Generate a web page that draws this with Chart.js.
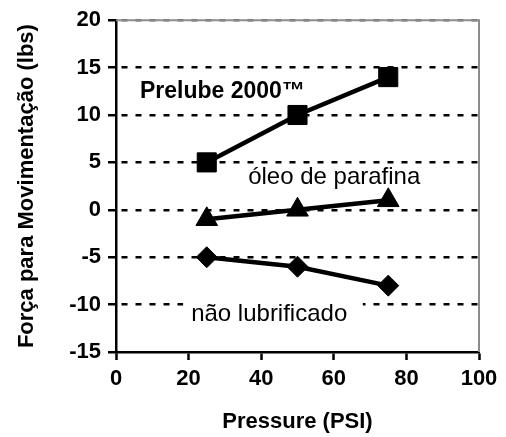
<!DOCTYPE html>
<html>
<head>
<meta charset="utf-8">
<script src="https://cdn.jsdelivr.net/npm/chart.js@4.4.0/dist/chart.umd.min.js"></script>
<style>
  html, body { margin: 0; padding: 0; background: #fff; }
  canvas { display: block; }
</style>
</head>
<body>
<canvas id="chart" width="506" height="437"></canvas>
<script>
// Values
const pressure = [25, 50, 75];
const prelube = [5, 10, 14];
const paraffin = [-1, 0, 1];
const dry = [-5, -6, -8];

const FONT = '"Liberation Sans", Arial, sans-serif';

function points(ys) {
    return pressure.map((x, i) => ({ x: x, y: ys[i] }));
}

// Text labels written inside the plot, placed in data units
const notes = [
    { text: 'Prelube 2000™', x: 6.6, y: 12.5, weight: 'bold', size: 23, box: null },
    { text: 'óleo de parafina', x: 36.4, y: 3.4, weight: 'normal', size: 24, box: null },
    { text: 'não lubrificado', x: 20.7, y: -11.0, weight: 'normal', size: 24, box: [18.5, 68] }
];

const framePlugin = {
    id: 'frame',
    beforeDatasetsDraw(chart) {
        const { ctx, chartArea: a, scales } = chart;
        ctx.save();
        // grey top / right frame
        ctx.strokeStyle = '#8c8c8c';
        ctx.lineWidth = 2;
        ctx.beginPath();
        ctx.moveTo(a.left, a.top);
        ctx.lineTo(a.right, a.top);
        ctx.lineTo(a.right, a.bottom);
        ctx.stroke();

        notes.forEach(n => {
            const px = scales.x.getPixelForValue(n.x);
            const py = scales.y.getPixelForValue(n.y);
            if (n.box) {
                const x0 = scales.x.getPixelForValue(n.box[0]);
                const x1 = scales.x.getPixelForValue(n.box[1]);
                ctx.fillStyle = '#fff';
                ctx.fillRect(x0, py - 13, x1 - x0, 26);
            }
            ctx.fillStyle = '#000';
            ctx.font = n.weight + ' ' + n.size + 'px ' + FONT;
            ctx.textAlign = 'left';
            ctx.textBaseline = 'middle';
            ctx.fillText(n.text, px, py);
        });
        ctx.restore();
    }
};

const lineStyle = {
    borderColor: '#000',
    backgroundColor: '#000',
    pointBackgroundColor: '#000',
    pointBorderColor: '#000',
    borderWidth: 4.5,
    pointBorderWidth: 1,
    fill: false,
    tension: 0
};

new Chart(document.getElementById('chart'), {
    type: 'line',
    data: {
        datasets: [
            Object.assign({ label: 'Prelube 2000', data: points(prelube), pointStyle: 'rect', pointRadius: 13.5 }, lineStyle),
            Object.assign({ label: 'óleo de parafina', data: points(paraffin), pointStyle: 'triangle', pointRadius: 12.5 }, lineStyle),
            Object.assign({ label: 'não lubrificado', data: points(dry), pointStyle: 'rectRot', pointRadius: 10.5 }, lineStyle)
        ]
    },
    options: {
        responsive: false,
        animation: false,
        layout: { padding: { left: 0, right: 27, top: 16, bottom: 0 } },
        plugins: {
            legend: { display: false },
            tooltip: { enabled: false }
        },
        scales: {
            x: {
                type: 'linear',
                min: 0,
                max: 100,
                afterFit: s => { s.height = 85; },
                ticks: {
                    stepSize: 20,
                    color: '#000',
                    padding: 6,
                    maxRotation: 0,
                    font: { family: FONT, size: 22, weight: 'bold' }
                },
                grid: {
                    drawOnChartArea: false,
                    drawTicks: true,
                    tickLength: 8,
                    tickColor: '#000',
                    tickWidth: 2.5
                },
                border: { color: '#000', width: 2.5 },
                title: {
                    display: true,
                    text: 'Pressure (PSI)',
                    color: '#000',
                    padding: { top: 0, bottom: 2 },
                    font: { family: FONT, size: 22, weight: 'bold' }
                }
            },
            y: {
                min: -15,
                max: 20,
                afterFit: s => { s.width = 116; },
                ticks: {
                    stepSize: 5,
                    color: '#000',
                    padding: 7,
                    font: { family: FONT, size: 22, weight: 'bold' }
                },
                grid: {
                    color: c => c.tick.value === 20 ? '#555' : (c.tick.value === -15 ? 'rgba(0,0,0,0)' : '#000'),
                    lineWidth: 2.5,
                    tickLength: 8,
                    tickColor: '#000',
                    tickWidth: 2.5
                },
                border: { color: '#000', width: 2.5, dash: [6, 8], dashOffset: 10 },
                title: {
                    display: true,
                    text: 'Força para Movimentação (lbs)',
                    color: '#000',
                    padding: { top: 14, bottom: 0 },
                    font: { family: FONT, size: 22, weight: 'bold' }
                }
            }
        }
    },
    plugins: [framePlugin]
});
</script>
</body>
</html>
